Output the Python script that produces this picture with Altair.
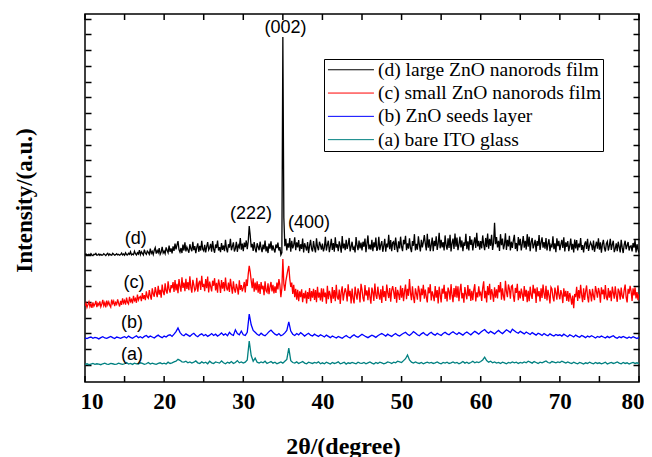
import altair as alt
import pandas as pd

# 2-theta grids (degrees)
theta_fine = [round(10 + 0.125 * i, 3) for i in range(561)]    # (c), (d)
theta_coarse = [round(10 + 0.25 * i, 3) for i in range(281)]   # (a), (b)

series_names = [
    "(d) large ZnO nanorods film",
    "(c) small ZnO nanorods film",
    "(b) ZnO seeds layer",
    "(a) bare ITO glass",
]
series_colors = ["#000000", "#ff0000", "#0000ff", "#008080"]

# (a) bare ITO glass  (0.25 deg steps)
int_a = [
    56,58,55,57,59,56,58,57,55,58,60,57,56,59,58,56,57,60,58,56,
    58,62,57,59,56,60,58,57,61,59,56,58,62,57,60,58,56,59,61,58,
    60,57,63,59,61,64,66,72,69,64,63,66,61,64,60,63,67,61,59,64,
    60,63,58,66,61,59,64,62,60,67,61,58,63,60,65,59,62,68,61,64,
    60,63,70,130,84,66,76,63,60,64,61,66,59,62,65,60,63,58,61,64,
    60,66,72,108,68,62,60,64,59,62,65,60,58,63,61,59,62,60,64,58,
    61,58,63,60,57,62,59,61,64,58,60,63,57,61,59,62,60,58,63,60,
    59,62,58,61,64,60,57,62,59,63,61,58,60,64,62,59,63,61,66,64,
    62,68,74,86,70,63,60,64,61,59,62,58,61,63,60,62,59,61,64,60,
    58,62,60,63,59,61,64,60,62,58,61,65,60,63,59,62,66,61,64,62,
    65,70,79,68,63,66,61,64,60,62,59,63,61,58,62,60,64,61,63,59,
    62,60,64,61,66,63,60,65,62,59,63,61,64,67,62,60,65,63,61,64,
    62,66,63,60,64,61,59,63,60,58,62,60,57,61,59,63,60,58,62,59,
    61,58,60,63,57,60,62,59,61,64,60,58,62,59,61,57,60,62,59,61,
    58,
]

# (b) ZnO seeds layer  (0.25 deg steps)
int_b = [
    140,138,141,143,139,142,140,137,141,144,140,139,142,145,141,138,143,141,139,142,
    144,140,146,142,139,143,147,141,144,140,145,148,142,146,143,140,145,149,144,141,
    146,143,148,150,145,152,160,172,158,150,147,153,149,145,151,155,148,144,150,153,
    147,151,145,149,154,148,152,146,150,156,149,153,147,158,151,148,166,154,150,162,
    150,148,158,216,182,164,158,152,148,155,150,147,153,160,165,158,152,149,154,147,
    150,156,164,191,162,152,148,154,150,157,152,146,151,155,149,146,152,148,145,150,
    147,143,149,145,141,146,143,140,145,142,139,144,148,143,140,146,150,145,142,147,
    152,148,144,141,145,149,146,142,147,151,154,150,146,152,148,145,150,154,149,146,
    151,155,158,152,148,153,160,156,150,147,153,157,151,148,154,158,152,149,155,151,
    148,154,158,153,150,156,160,155,151,157,153,149,155,159,154,150,156,161,157,152,
    158,163,167,160,155,161,157,153,159,164,158,154,160,166,162,157,168,163,158,155,
    161,157,153,159,155,151,157,153,149,155,152,148,154,150,147,153,149,146,151,148,
    150,146,152,148,144,150,147,143,149,145,142,148,145,141,146,143,147,144,140,145,
    142,146,143,140,145,141,144,147,142,139,144,141,145,142,139,143,140,144,141,138,
    142,
]

# (c) small ZnO nanorods film  (0.125 deg steps, one row per degree from 10)
int_c = [
    242,251,237,246,255,240,249,236,
    253,241,247,258,238,250,244,256,
    239,248,261,243,252,237,259,246,
    255,244,238,262,249,257,241,253,
    247,263,250,240,258,245,266,251,
    259,246,268,253,248,271,256,262,
    250,274,259,265,252,278,261,269,
    272,257,283,264,276,260,288,270,
    266,292,275,262,298,280,271,302,
    285,270,306,278,293,268,310,287,
    276,314,290,281,320,295,284,308,
    298,318,286,324,291,312,282,327,
    305,287,333,299,316,289,328,296,
    318,292,336,301,284,325,309,290,
    296,331,287,314,322,293,338,302,
    312,289,327,298,335,285,319,304,
    288,322,306,330,291,315,284,326,
    310,283,324,297,318,289,332,300,
    291,316,286,328,303,281,320,295,
    284,312,298,278,323,293,308,288,
    300,318,285,326,305,343,369,350,
    322,298,330,287,316,292,320,284,
    311,280,318,295,306,276,320,290,
    285,314,279,302,318,288,309,282,
    304,283,316,294,327,308,270,298,
    391,312,290,321,338,356,369,328,
    302,316,280,309,270,296,262,293,
    257,288,270,295,254,283,266,291,
    250,286,264,299,257,289,268,296,
    261,292,254,303,268,284,259,298,
    255,297,270,284,249,306,263,290,
    276,251,302,265,292,257,309,270,
    262,294,248,286,304,259,281,298,
    285,256,311,272,290,250,297,266,
    250,303,279,262,298,284,253,312,
    294,267,256,308,275,291,260,301,
    271,249,300,286,258,313,277,264,
    303,278,262,295,251,306,270,289,
    258,310,284,267,299,255,291,305,
    287,264,302,252,293,279,261,307,
    268,299,257,288,310,263,296,274,
    327,283,260,304,271,251,298,281,
    262,306,289,255,297,276,309,265,
    294,270,253,301,282,311,259,288,
    275,257,305,268,292,250,303,279,
    253,297,281,309,264,288,256,300,
    288,262,311,276,254,299,270,306,
    268,304,257,291,312,266,283,252,
    302,279,263,308,273,296,258,290,
    260,293,311,256,285,269,304,277,
    284,258,299,320,266,290,253,305,
    276,312,262,295,280,255,301,268,
    295,266,308,285,318,262,298,273,
    259,322,287,270,310,296,265,304,
    307,274,255,299,283,312,260,290,
    266,297,280,258,305,271,293,254,
    290,257,303,277,264,309,282,297,
    251,301,272,289,256,298,267,310,
    281,264,306,259,293,275,250,302,
    296,270,256,300,283,262,307,278,
    263,292,279,251,298,271,290,258,
    289,255,283,268,246,275,235,280,
    270,303,258,292,266,309,277,254,
    298,261,287,307,271,253,295,282,
    256,296,274,260,305,288,268,299,
    285,252,301,279,294,263,308,270,
    260,299,268,291,257,303,284,265,
    304,276,255,297,287,262,300,273,
    265,292,310,270,253,296,281,306,
    289,258,298,275,301,266,286,260,
    280,
]

# (d) large ZnO nanorods film  (0.125 deg steps, one row per degree from 10)
int_d = [
    404,407,403,405,406,403,408,404,
    402,406,405,409,403,404,407,403,
    406,403,404,408,405,402,406,409,
    403,407,404,403,409,406,403,405,
    408,404,406,403,405,410,404,407,
    403,411,405,404,409,406,414,404,
    407,405,416,408,404,411,407,419,
    405,414,409,404,421,410,406,416,
    412,406,424,409,415,405,419,427,
    408,418,411,426,406,413,430,410,
    416,408,428,419,411,434,414,425,
    409,431,417,440,422,436,448,421,
    413,426,410,437,418,444,415,429,
    420,411,438,424,416,446,419,432,
    410,428,441,414,433,418,449,422,
    417,436,412,430,445,420,427,439,
    414,448,423,411,437,426,450,418,
    429,413,442,420,434,416,452,425,
    412,438,427,455,419,431,444,415,
    424,446,414,435,428,458,421,440,
    416,443,429,450,422,447,496,466,
    428,439,417,445,424,412,441,430,
    419,446,426,413,437,422,450,415,
    431,410,440,424,447,418,434,421,
    412,437,426,443,418,429,404,411,
    1097,522,432,455,418,441,427,458,
    414,449,425,436,460,419,444,428,
    451,416,438,423,456,412,441,430,
    418,445,410,433,452,424,415,448,
    426,412,457,430,419,446,435,421,
    440,415,428,462,418,436,449,413,
    431,455,420,442,414,460,427,438,
    416,447,433,411,464,425,440,419,
    452,423,437,458,415,430,446,420,
    428,412,461,434,419,450,425,443,
    418,446,430,456,413,439,466,422,
    437,421,452,416,444,428,459,417,
    425,462,419,436,448,414,433,455,
    414,440,428,468,422,451,416,443,
    446,420,459,431,413,447,425,462,
    430,416,452,438,465,419,441,424,
    457,426,413,448,433,470,418,439,
    421,463,436,415,452,428,445,467,
    440,418,471,427,454,416,436,459,
    416,449,432,463,420,440,474,425,
    452,428,445,418,466,434,421,457,
    426,468,415,441,456,423,472,430,
    459,419,437,462,428,450,416,444,
    433,471,422,447,418,464,436,453,
    418,443,460,426,474,431,449,421,
    448,425,466,437,419,458,429,472,
    424,455,433,468,420,441,506,438,
    461,428,449,417,470,435,456,422,
    437,473,420,452,431,465,418,446,
    426,450,468,423,442,416,461,434,
    455,418,439,464,427,449,421,470,
    430,462,416,445,458,425,437,452,
    414,448,433,467,420,443,460,427,
    445,424,458,418,439,454,416,436,
    428,463,422,441,413,457,432,449,
    419,437,452,426,460,415,444,430,
    448,416,433,456,421,439,412,453,
    425,451,418,440,428,458,420,435,
    412,438,447,423,455,417,433,444,
    436,419,450,414,432,446,424,457,
    421,444,411,438,452,426,415,440,
    447,418,433,455,420,437,449,413,
    424,441,416,446,430,412,452,428,
    410,436,449,422,434,445,418,431,
    433,415,442,427,451,412,438,420,
    412,
]

assert len(int_a) == len(theta_coarse) and len(int_b) == len(theta_coarse)
assert len(int_c) == len(theta_fine) and len(int_d) == len(theta_fine)

# peak annotations
peak_text = ["(002)", "(222)", "(400)"]
peak_x = [35.33, 30.98, 38.3]
peak_y = [1126, 534, 506]

# curve annotations
curve_text = ["(d)", "(c)", "(b)", "(a)"]
curve_x = [16.4, 16.2, 15.95, 15.95]
curve_y = [455, 315, 188, 86]

# x tick positions (every 5 degrees)
x_minor = list(range(10, 81, 5))

rows = []
for name, xs, vals in zip(series_names,
                          [theta_fine, theta_fine, theta_coarse, theta_coarse],
                          [int_d, int_c, int_b, int_a]):
    for x, v in zip(xs, vals):
        rows.append({"two_theta": x, "intensity": v, "series": name})
df = pd.DataFrame(rows)
peaks = pd.DataFrame({"two_theta": peak_x, "intensity": peak_y, "label": peak_text})
curves = pd.DataFrame({"two_theta": curve_x, "intensity": curve_y, "label": curve_text})
xticks_df = pd.DataFrame({"two_theta": x_minor})

W, H = 554, 368
xscale = alt.Scale(domain=[10, 80], nice=False, zero=False)
yscale = alt.Scale(domain=[0, 1170], nice=False, zero=False)
y_ticks = [55 + 50 * k for k in range(23)]

tick_common = dict(labels=False, domain=False, grid=False, title=None,
                   tickSize=6, tickColor="black", tickWidth=1.5)

lines = alt.Chart(df).mark_line(strokeWidth=1.3, clip=True).encode(
    x=alt.X("two_theta:Q", scale=xscale,
            axis=alt.Axis(orient="bottom", title="2θ/(degree)", values=list(range(10, 81, 10)),
                          ticks=False, domain=False, grid=False, labelPadding=8,
                          labelFlush=True, labelFlushOffset=5, labelOverlap=False,
                          labelFont="Liberation Serif", labelFontSize=23, labelFontWeight="bold",
                          labelColor="black",
                          titleFont="Liberation Serif", titleFontSize=24, titleFontWeight="bold",
                          titleColor="black", titleX=258, titleY=64, titleBaseline="middle",
                          titleAlign="center")),
    y=alt.Y("intensity:Q", scale=yscale,
            axis=alt.Axis(orient="left", title="Intensity/(a.u.)", labels=False, ticks=False,
                          domain=False, grid=False,
                          titleFont="Liberation Serif", titleFontSize=23, titleFontWeight="bold",
                          titleColor="black", titleX=-61, titleY=186, titleBaseline="middle",
                          titleAlign="center", titleAngle=270)),
    color=alt.Color("series:N",
                    scale=alt.Scale(domain=series_names, range=series_colors),
                    legend=alt.Legend(orient="none", legendX=239, legendY=45, title=None,
                                      symbolType="M-1.7,0H9.8", symbolSize=64,
                                      symbolStrokeWidth=1,
                                      labelFont="Liberation Serif", labelFontSize=19.5,
                                      labelColor="black", labelLimit=0, labelOffset=33.5,
                                      strokeColor="black", fillColor="white", padding=1,
                                      rowPadding=2.3)),
    order=alt.Order("two_theta:Q"),
)

peak_labels = alt.Chart(peaks).mark_text(font="Liberation Sans", fontSize=18, color="black",
                                         baseline="middle", align="center").encode(
    x=alt.X("two_theta:Q", scale=xscale, axis=None),
    y=alt.Y("intensity:Q", scale=yscale,
            axis=alt.Axis(orient="right", offset=-W, values=y_ticks, **tick_common)),
    text="label:N",
)

curve_labels = alt.Chart(curves).mark_text(font="Liberation Sans", fontSize=18, color="black",
                                           baseline="middle", align="center").encode(
    x=alt.X("two_theta:Q", scale=xscale, axis=None),
    y=alt.Y("intensity:Q", scale=yscale,
            axis=alt.Axis(orient="left", offset=-W, values=y_ticks, **tick_common)),
    text="label:N",
)

# inward tick marks on the bottom and top frame edges, placed through the x scale
bottom_ticks = alt.Chart(xticks_df).mark_rule(color="black", strokeWidth=1.5).encode(
    x=alt.X("two_theta:Q", scale=xscale, axis=None),
    y=alt.value(H), y2=alt.value(H - 6),
)
top_ticks = alt.Chart(xticks_df).mark_rule(color="black", strokeWidth=1.5).encode(
    x=alt.X("two_theta:Q", scale=xscale, axis=None),
    y=alt.value(0), y2=alt.value(6),
)

chart = alt.layer(lines, peak_labels, curve_labels, bottom_ticks, top_ticks).resolve_axis(
    x="independent", y="independent"
).properties(
    width=W, height=H,
    padding={"left": 5, "top": 5, "right": 0, "bottom": 0},
).configure_view(stroke="black", strokeWidth=1.5)

chart.save("out.html", embed_options={"renderer": "svg", "actions": False})
